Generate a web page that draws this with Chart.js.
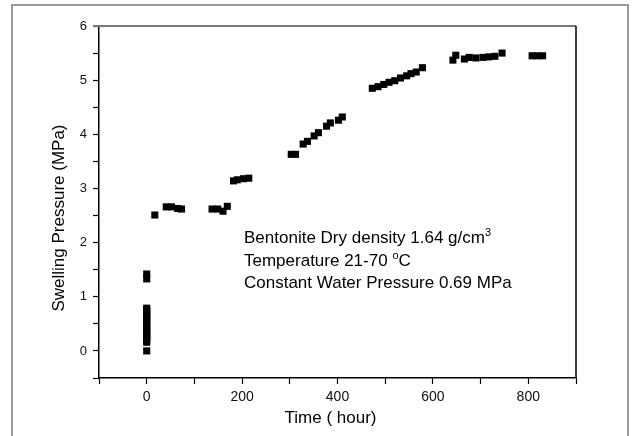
<!DOCTYPE html>
<html>
<head>
<meta charset="utf-8">
<script src="https://cdn.jsdelivr.net/npm/chart.js@4.4.0/dist/chart.umd.min.js"></script>
<style>
  body { margin: 0; background: #fff; }
  #wrap { position: relative; width: 633px; height: 436px; }
  #note {
    position: absolute; left: 244px; top: 227px;
    font: 17px "Liberation Sans", Arial, sans-serif;
    line-height: 22.5px; color: #000; white-space: nowrap;
  }
  #note sup { font-size: 11px; line-height: 0; vertical-align: 7px; }
</style>
</head>
<body>
<div id="wrap">
  <canvas id="myChart" width="633" height="436"></canvas>
  <div id="note">Bentonite Dry density 1.64 g/cm<sup>3</sup><br>Temperature 21-70 <sup>o</sup>C<br>Constant Water Pressure 0.69 MPa</div>
</div>
<script>
//Datos
const horas = [0, 0, 0, 0, 0, 0, 0, 0, 0, 0, 0, 0, 0, 0, 0, 0, 0, 0, 0, 0,
  17, 41, 52, 65, 73, 137, 149, 160, 169,
  182, 190, 203, 214,
  303, 312, 328, 337, 351, 360, 377, 385, 402, 410,
  473, 485, 497, 508, 520, 532, 545, 554, 565, 578,
  642, 648, 666, 676, 690, 705, 717, 730, 745,
  808, 818, 830];
const presion = [0.0, 0.16, 0.2, 0.24, 0.28, 0.32, 0.36, 0.4, 0.44, 0.48, 0.52, 0.56, 0.6, 0.64, 0.68, 0.72, 0.76, 0.79, 1.33, 1.42,
  2.51, 2.66, 2.66, 2.63, 2.62, 2.62, 2.62, 2.58, 2.67,
  3.14, 3.16, 3.18, 3.19,
  3.63, 3.63, 3.82, 3.87, 3.97, 4.03, 4.15, 4.21, 4.26, 4.32,
  4.85, 4.88, 4.92, 4.96, 4.99, 5.04, 5.08, 5.12, 5.15, 5.23,
  5.37, 5.46, 5.39, 5.42, 5.41, 5.42, 5.43, 5.44, 5.5,
  5.45, 5.45, 5.45];
//Ejes
const xMin = -100, xMax = 900, xPaso = 100;
const yMin = -0.5, yMax = 6, yPaso = 0.5;
const xEtiquetas = [0, 200, 400, 600, 800];
const yEtiquetas = [0, 1, 2, 3, 4, 5, 6];
const xTitulo = 'Time ( hour)';
const yTitulo = 'Swelling Pressure (MPa)';

const puntos = horas.map((h, i) => ({x: h, y: presion[i]}));
const fuente = '"Liberation Sans", Arial, sans-serif';

//bordes superior/derecho, marco exterior y titulos de ejes
const marco = {
  id: 'marco',
  afterDraw(chart) {
    const {ctx, chartArea: a} = chart;
    ctx.save();
    ctx.strokeStyle = '#777';
    ctx.lineWidth = 2;
    ctx.beginPath(); ctx.moveTo(a.left - 6, a.top); ctx.lineTo(a.right, a.top); ctx.stroke();
    ctx.strokeStyle = '#000';
    ctx.lineWidth = 1.5;
    ctx.beginPath(); ctx.moveTo(a.right, a.top); ctx.lineTo(a.right, a.bottom); ctx.stroke();
    ctx.strokeStyle = '#999';
    ctx.lineWidth = 2;
    ctx.beginPath(); ctx.moveTo(12, 440); ctx.lineTo(12, 5); ctx.lineTo(628, 5); ctx.lineTo(628, 440); ctx.stroke();
    //titulos
    ctx.fillStyle = '#000';
    ctx.font = '17px ' + fuente;
    ctx.textAlign = 'center';
    ctx.textBaseline = 'middle';
    ctx.fillText(xTitulo, (a.left + a.right) / 2 - 7, 418);
    ctx.translate(59, (a.top + a.bottom) / 2 + 16);
    ctx.rotate(-Math.PI / 2);
    ctx.fillText(yTitulo, 0, 0);
    ctx.restore();
  }
};

let ctx = document.getElementById('myChart').getContext('2d');
let myChart = new Chart(ctx, {
  type: 'scatter',
  data: {
    datasets: [{
      data: puntos,
      pointStyle: 'rect',
      pointRadius: 5,
      pointHoverRadius: 5,
      backgroundColor: '#000',
      borderWidth: 0
    }]
  },
  options: {
    responsive: false,
    animation: false,
    layout: { padding: { left: 0, right: 57, top: 26, bottom: 0 } },
    plugins: { legend: { display: false }, tooltip: { enabled: false } },
    scales: {
      x: {
        type: 'linear', min: xMin, max: xMax,
        afterFit: s => { s.height = 58; },
        border: { color: '#000', width: 1.5 },
        grid: { drawOnChartArea: false, tickLength: 6, color: '#000', tickWidth: 1.2 },
        ticks: {
          stepSize: xPaso, autoSkip: false, maxRotation: 0, padding: 5,
          color: '#111', font: { family: fuente, size: 14 },
          callback: v => xEtiquetas.includes(v) ? v : ''
        }
      },
      y: {
        type: 'linear', min: yMin, max: yMax,
        afterFit: s => { s.width = 99; },
        border: { color: '#000', width: 1.5 },
        grid: { drawOnChartArea: false, tickLength: 6, color: '#000', tickWidth: 1.2 },
        ticks: {
          stepSize: yPaso, autoSkip: false, padding: 6,
          color: '#111', font: { family: fuente, size: 13 },
          callback: v => yEtiquetas.includes(v) ? v : ''
        }
      }
    }
  },
  plugins: [marco]
});
</script>
</body>
</html>
